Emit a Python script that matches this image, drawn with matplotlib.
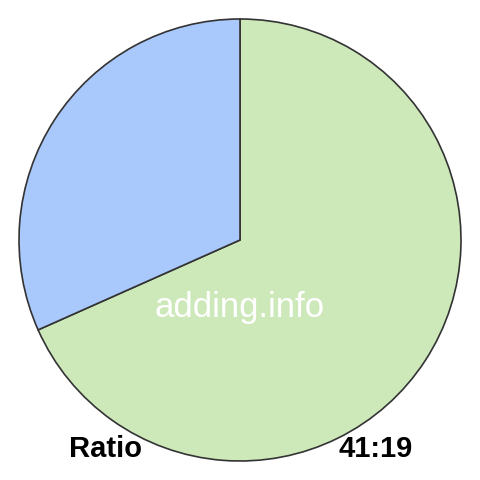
import matplotlib.pyplot as plt

labels = ['41', '19']
values = [41, 19]
colors = ['#cde8b9', '#a9c8fb']
ratio_text = '41:19'

fig = plt.figure(figsize=(4.8, 4.8), dpi=100)
ax = fig.add_axes([0, 0, 1, 1])

ax.pie(values, colors=colors, startangle=90, counterclock=False,
       radius=1.0, wedgeprops={'edgecolor': '#333333', 'linewidth': 1.2})

lim = 240 / 221
ax.set_xlim(-lim, lim)
ax.set_ylim(-lim, lim)
ax.set_aspect('equal')
ax.axis('off')

fig.text(240 / 480, 1 - 308 / 480, 'adding.info', color='white',
         fontsize=25, family='Liberation Sans', ha='center', va='center')
fig.text(69 / 480, 1 - 449 / 480, 'Ratio', color='black', fontsize=21,
         fontweight='bold', family='Liberation Sans', ha='left', va='center')
fig.text(413 / 480, 1 - 449 / 480, ratio_text, color='black', fontsize=21,
         fontweight='bold', family='Liberation Sans', ha='right', va='center')

fig.savefig('out.png', dpi=100)
